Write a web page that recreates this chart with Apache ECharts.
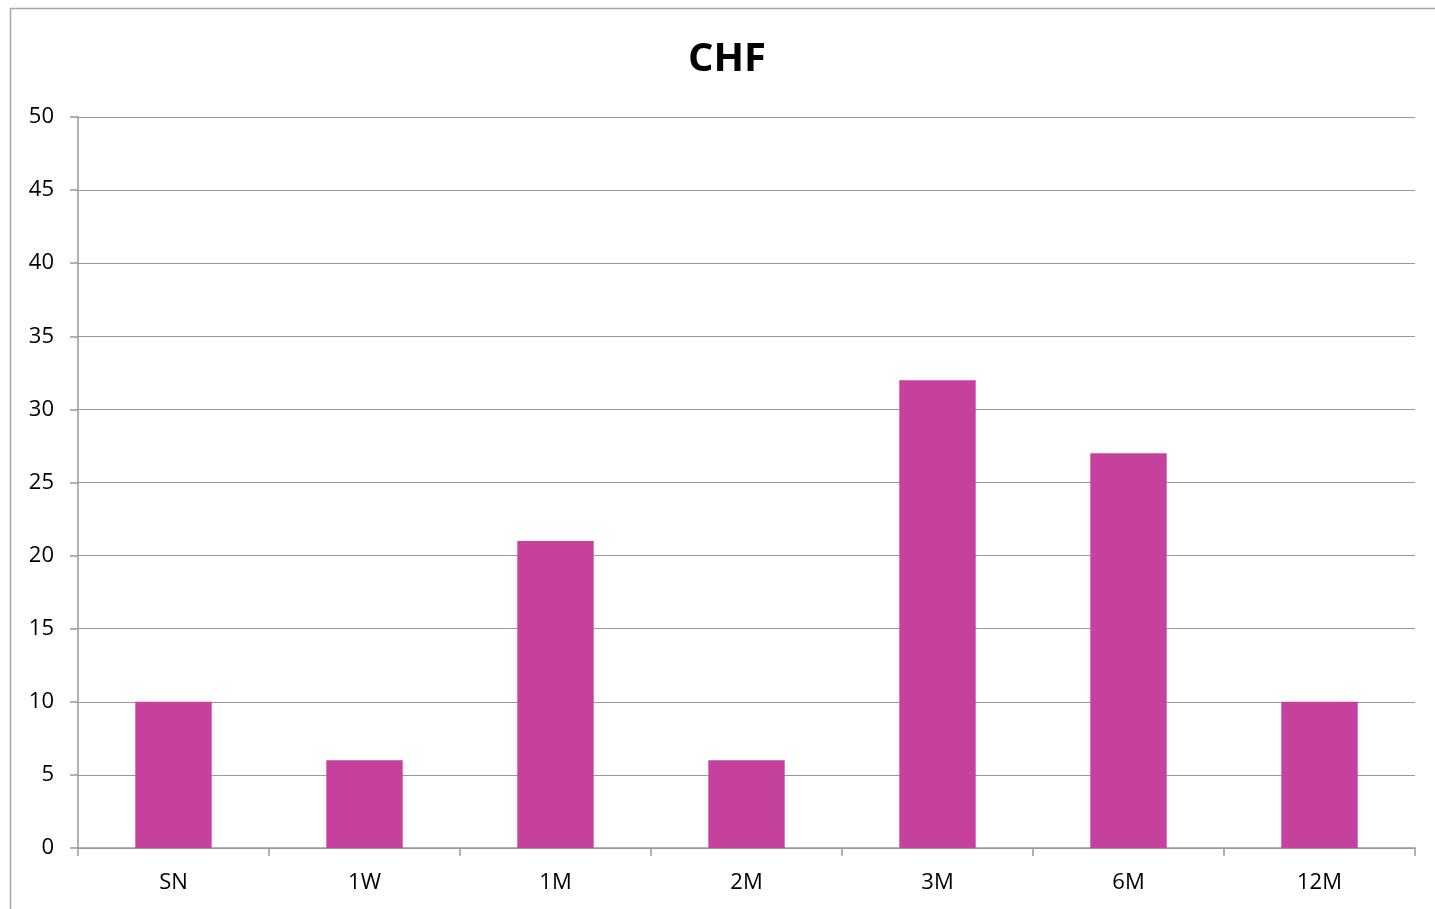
<!DOCTYPE html>
<html>
<head>
<meta charset="utf-8">
<style>
  html, body { margin: 0; padding: 0; background: #fff; }
  #chart { width: 1435px; height: 909px; }
</style>
<script src="https://cdn.jsdelivr.net/npm/echarts@6/dist/echarts.min.js"></script>
</head>
<body>
<div id="chart"></div>
<script>
// Tenor buckets and counts for CHF
const categories = ['SN', '1W', '1M', '2M', '3M', '6M', '12M'];
const values = [10, 6, 21, 6, 32, 27, 10];
const yTicks = { min: 0, max: 50, interval: 5 };

const chart = echarts.init(document.getElementById('chart'), null, { renderer: 'canvas' });
const font = '"Open Sans", "Noto Sans", sans-serif';

chart.setOption({
  animation: false,
  backgroundColor: '#fff',
  title: {
    text: 'CHF',
    left: 722,
    textAlign: 'center',
    top: 35,
    textStyle: { fontFamily: font, fontWeight: 'bold', fontSize: 40, color: '#000' }
  },
  graphic: [{
    type: 'rect',
    shape: { x: 10.5, y: 8.5, width: 1440, height: 920 },
    style: { fill: 'none', stroke: '#a6a6a6', lineWidth: 1.5 },
    silent: true
  }],
  grid: { left: 78, right: 20, top: 117, bottom: 61, containLabel: false },
  xAxis: {
    type: 'category',
    data: categories,
    axisLine: { show: true, lineStyle: { color: '#999', width: 1.5 } },
    axisTick: { show: true, length: 8, alignWithLabel: false, lineStyle: { color: '#999', width: 1.5 } },
    axisLabel: { fontFamily: font, fontSize: 22, color: '#000', margin: 24 }
  },
  yAxis: {
    type: 'value',
    min: yTicks.min,
    max: yTicks.max,
    interval: yTicks.interval,
    axisLine: { show: true, lineStyle: { color: '#999', width: 1.5 } },
    axisTick: { show: true, length: 8, lineStyle: { color: '#999', width: 1.5 } },
    axisLabel: { fontFamily: font, fontSize: 22, color: '#000', margin: 24 },
    splitLine: { show: true, lineStyle: { color: '#999', width: 1.2 } }
  },
  series: [{
    type: 'bar',
    data: values,
    barWidth: '40%',
    itemStyle: { color: '#C6419E' }
  }]
});
</script>
</body>
</html>
